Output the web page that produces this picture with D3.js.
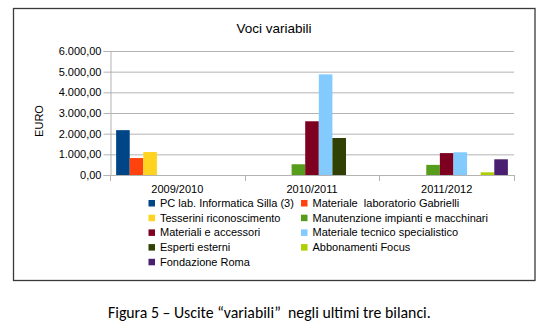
<!DOCTYPE html>
<html>
<head>
<meta charset="utf-8">
<script src="https://cdn.jsdelivr.net/npm/d3@7"></script>
<style>
  html, body { margin: 0; padding: 0; background: #fff; }
  svg { display: block; }
  text { font-family: "Liberation Sans", Arial, sans-serif; fill: #000; white-space: pre; }
</style>
</head>
<body>
<svg id="chart" width="546" height="335"></svg>
<script>
// Anni di bilancio
const categories = ["2009/2010", "2010/2011", "2011/2012"];

// Voci di spesa (serie)
const seriesNames = [
  "PC lab. Informatica Silla (3)",
  "Materiale  laboratorio Gabrielli",
  "Tesserini riconoscimento",
  "Manutenzione impianti e macchinari",
  "Materiali e accessori",
  "Materiale tecnico specialistico",
  "Esperti esterni",
  "Abbonamenti Focus",
  "Fondazione Roma"
];

// Importi in euro, uno per anno
const pcLab          = [2170, 0, 0];
const matGabrielli   = [820, 0, 0];
const tesserini      = [1110, 0, 0];
const manutenzione   = [0, 520, 490];
const materiali      = [0, 2600, 1060];
const matTecnico     = [0, 4870, 1100];
const esperti        = [0, 1790, 0];
const abbonamenti    = [0, 0, 130];
const fondazione     = [0, 0, 760];

const yTicks = [0, 1000, 2000, 3000, 4000, 5000, 6000];

const seriesValues = [pcLab, matGabrielli, tesserini, manutenzione, materiali,
                      matTecnico, esperti, abbonamenti, fondazione];

const colors = ["#004586", "#ff420e", "#ffd320", "#579d1c", "#7e0021",
                "#83caff", "#314004", "#aecf00", "#4b1f6f"];

const svg = d3.select("#chart");

// cornice del grafico
svg.append("rect")
  .attr("x", 13.5).attr("y", 8.5)
  .attr("width", 521.5).attr("height", 272)
  .attr("fill", "#fff")
  .attr("stroke", "#3a3a3a")
  .attr("stroke-width", 1.3);

svg.append("text")
  .attr("x", 274).attr("y", 33)
  .attr("text-anchor", "middle")
  .attr("font-size", 13.5)
  .text("Voci variabili");

const plot = { left: 110, right: 514, top: 51, bottom: 175 };

const x0 = d3.scaleBand()
  .domain(categories)
  .range([plot.left, plot.right])
  .paddingInner(0).paddingOuter(0);

const x1 = d3.scaleBand()
  .domain(d3.range(seriesNames.length))
  .range([0, x0.bandwidth()])
  .paddingInner(0).paddingOuter(0.45);

const y = d3.scaleLinear()
  .domain([0, 6000])
  .range([plot.bottom, plot.top]);

const fmt = v => {
  const s = d3.format(",.2f")(v);
  return s.replace(/,/g, "#").replace(".", ",").replace(/#/g, ".");
};

// griglia orizzontale
svg.append("g")
  .selectAll("line")
  .data(yTicks.filter(t => t > 0))
  .join("line")
  .attr("x1", plot.left).attr("x2", plot.right)
  .attr("y1", d => y(d) + 0.5).attr("y2", d => y(d) + 0.5)
  .attr("stroke", "#b3b3b3").attr("stroke-width", 1);

// asse Y
const yAxis = svg.append("g")
  .attr("transform", `translate(${plot.left + 0.5},0)`)
  .call(d3.axisLeft(y).tickValues(yTicks).tickFormat(fmt).tickSize(7).tickPadding(2));
yAxis.select(".domain").attr("stroke", "#b3b3b3");
yAxis.selectAll(".tick line").attr("stroke", "#b3b3b3");
yAxis.selectAll(".tick text")
  .attr("font-size", 11)
  .attr("font-family", "Liberation Sans, Arial, sans-serif")
  .attr("fill", "#000");

svg.append("text")
  .attr("transform", "translate(43,121) rotate(-90)")
  .attr("text-anchor", "middle")
  .attr("font-size", 11)
  .text("EURO");

// barre
const groups = svg.append("g")
  .selectAll("g")
  .data(categories)
  .join("g")
  .attr("transform", d => `translate(${x0(d)},0)`);

groups.selectAll("rect")
  .data((c, ci) => seriesValues.map((vals, si) => ({ si, v: vals[ci] })))
  .join("rect")
  .attr("x", d => x1(d.si))
  .attr("width", x1.bandwidth())
  .attr("y", d => y(d.v))
  .attr("height", d => y(0) - y(d.v))
  .attr("fill", d => colors[d.si]);

// asse X con tacche ai confini delle categorie
const xg = svg.append("g");
xg.append("line")
  .attr("x1", plot.left).attr("x2", plot.right)
  .attr("y1", plot.bottom + 0.5).attr("y2", plot.bottom + 0.5)
  .attr("stroke", "#b3b3b3");
const bounds = categories.map(c => x0(c)).concat([x0.range()[1]]);
xg.selectAll("line.tk")
  .data(bounds)
  .join("line")
  .attr("class", "tk")
  .attr("x1", d => Math.round(d) + 0.5).attr("x2", d => Math.round(d) + 0.5)
  .attr("y1", plot.bottom).attr("y2", plot.bottom + 6)
  .attr("stroke", "#b3b3b3");
xg.selectAll("text")
  .data(categories)
  .join("text")
  .attr("x", d => x0(d) + x0.bandwidth() / 2)
  .attr("y", 193)
  .attr("text-anchor", "middle")
  .attr("font-size", 11)
  .text(d => d);

// legenda su due colonne
const legend = svg.append("g");
const colX = [148.5, 301];
const rowY0 = 207, rowStep = 14.7;
const items = legend.selectAll("g")
  .data(seriesNames)
  .join("g")
  .attr("transform", (d, i) => `translate(${colX[i % 2]},${rowY0 + Math.floor(i / 2) * rowStep})`);
items.append("rect")
  .attr("x", 0).attr("y", -7)
  .attr("width", 6.5).attr("height", 6.5)
  .attr("fill", (d, i) => colors[i]);
items.append("text")
  .attr("x", 11.5).attr("y", 0)
  .attr("font-size", 11)
  .text(d => d);

// didascalia
svg.append("text")
  .attr("x", 108).attr("y", 318)
  .attr("font-size", 15.8)
  .style("font-family", "Carlito, Lato, sans-serif")
  .text("Figura 5 \u2013 Uscite \u201cvariabili\u201d\u00a0 negli ultimi tre bilanci.");
</script>
</body>
</html>
